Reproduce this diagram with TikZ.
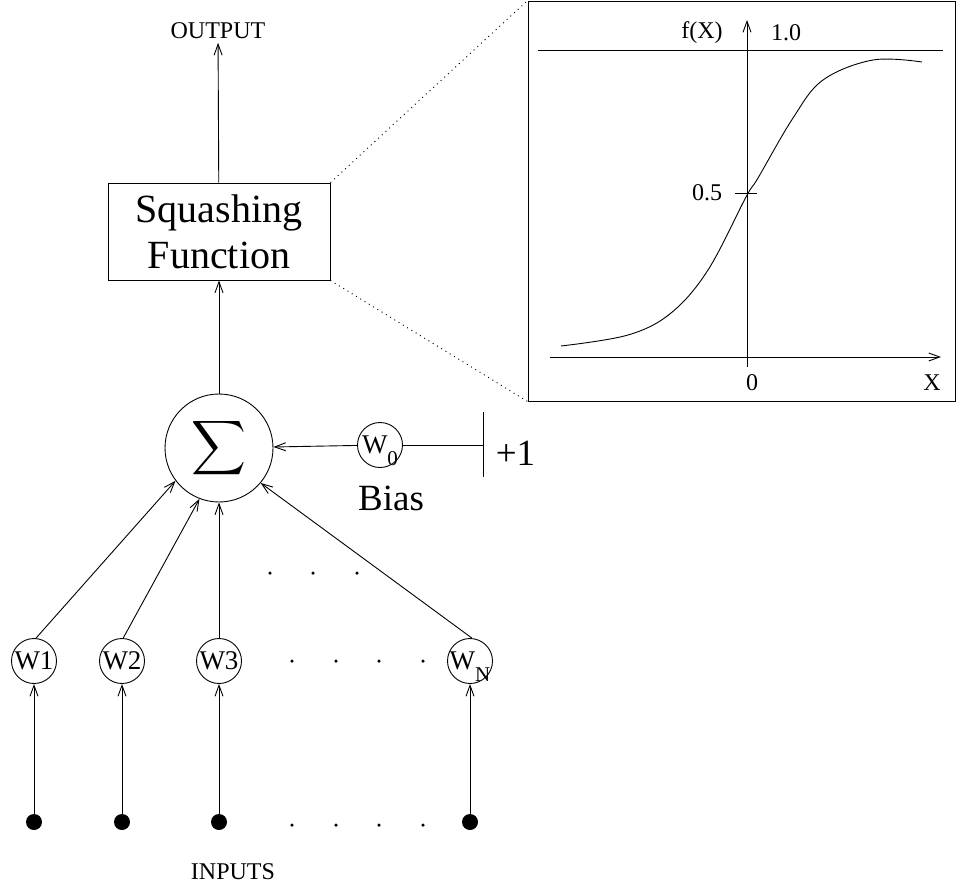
\documentclass[tikz,border=0pt]{standalone}
\usepackage{fontspec}
\setmainfont{Liberation Serif}
\usepackage{amsmath}
\usepackage{graphicx}
\usetikzlibrary{arrows.meta,positioning}
\tikzset{
  wgt/.style={draw, circle, minimum size=45pt, inner sep=0pt, font=\fontsize{27}{27}\selectfont},
  dotin/.style={fill, circle, minimum size=16pt, inner sep=0pt},
  smalldot/.style={fill, circle, minimum size=3.5pt, inner sep=0pt},
  lbl/.style={font=\fontsize{24}{24}\selectfont},
  big/.style={font=\fontsize{37}{37}\selectfont},
  zoomline/.style={dash pattern=on 1pt off 4pt},
}
\newcommand{\lowidx}[1]{\raisebox{-12pt}[0pt][0pt]{\fontsize{21}{21}\selectfont #1}}

\begin{document}
\begin{tikzpicture}[x=1pt, y=-1pt, >={Straight Barb[length=11pt,width=8pt]}, line width=0.9pt]
\useasboundingbox (0,0) rectangle (957,888);
% neuron
\node[lbl] (out) at (218,31) {OUTPUT};
\node[draw, align=center, minimum width=222pt, minimum height=97pt, inner sep=0pt, font=\fontsize{40}{46}\selectfont] (squash) at (219,231.5) {Squashing\\Function};
\node[draw, circle, minimum size=108pt, inner sep=0pt] (sum) at (219,448) {\scalebox{3.8}{$\displaystyle\sum$}};
\draw[->] (sum) -- (squash);
\draw[->] (squash) -- (out);
% bias
\node[wgt] (w0) at (380,445) {W\lowidx{0}};
\coordinate (bar) at (483,445);
\draw[->] (w0) -- (sum);
\draw (w0) -- (bar);
\draw ([yshift=33pt]bar) -- ([yshift=-32pt]bar);
\node[big, anchor=base west] (one) at ([xshift=9pt,yshift=-20pt]bar) {+1};
\node[big, anchor=base] (bias) at (391,510) {Bias};
% weights and inputs
\foreach \i/\x in {1/34,2/122,3/219} {
  \node[wgt] (w\i) at (\x,661) {W\i};
  \node[dotin] (in\i) at (\x,822) {};
  \draw[->] (in\i) -- (w\i);
}
\node[wgt] (wN) at (470,661) {W\lowidx{N}};
\node[dotin] (inN) at (470,822) {};
\draw[->] (inN) -- (wN);
\draw[->] (w1.85) -- (sum.217);
\draw[->] (w2.87) -- (sum.249);
\draw[->] (w3) -- (sum);
\draw[->] (wN.85) -- (sum.320);
\foreach \x in {292,336,379,423} {
  \node[smalldot] (m\x) at (\x,661) {};
  \node[smalldot] (b\x) at (\x,825) {};
}
\foreach \x in {270,313,357} {\node[smalldot] (t\x) at (\x,573) {};}
\node[lbl] (inputs) at (233,872) {INPUTS};
% squashing function graph
\node[draw, minimum width=427pt, minimum height=400pt, inner sep=0pt] (graph) at (741.5,201) {};
\draw[zoomline] (squash.north east) -- (graph.north west);
\draw[zoomline] (squash.south east) -- (graph.south west);
\draw (538,50) -- (943,50);
\draw[->] (747,367) -- (747,20);
\draw[->] (550,357) -- (941,357);
\draw (735,193) -- (757,193);
\draw plot[smooth, tension=0.6] coordinates {(561,346) (628,335) (671,313) (708,270) (746,197) (758,178) (793,118) (823,80) (873,60) (922,62)};
\node[lbl] (fx) at (702,33) {f(X)};
\node[lbl] (top) at (786,33) {1.0};
\node[lbl, anchor=east] (half) at (726,193) {0.5};
\node[lbl] (zero) at (752,383) {0};
\node[lbl] (xlab) at (932,383) {X};
\end{tikzpicture}
\end{document}
